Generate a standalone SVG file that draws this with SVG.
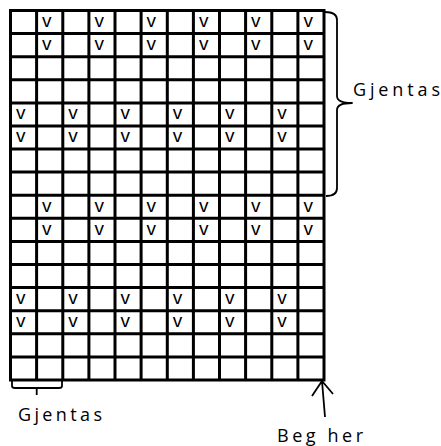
<svg xmlns="http://www.w3.org/2000/svg" width="441" height="446" viewBox="0 0 441 446">
<style>
.grid{fill:none;stroke:#000;stroke-width:3}
.v{font-family:"Liberation Sans",Arial,sans-serif;font-size:19px;fill:#000}
.lbl{font-family:"Open Sans","Noto Sans",sans-serif;font-size:18px;fill:#000}
.br{fill:none;stroke:#000;stroke-width:1.8;stroke-linejoin:round}
</style>
<rect width="441" height="446" fill="#fff"/>
<g id="grid">
<path class="grid" d="M10.5 10.5H324V380H10.5Z
M36.6 10.5V380M62.8 10.5V380M88.9 10.5V380M115 10.5V380M141.1 10.5V380M167.3 10.5V380M193.4 10.5V380M219.5 10.5V380M245.6 10.5V380M271.8 10.5V380M297.9 10.5V380
M10.5 33.6H324M10.5 56.7H324M10.5 79.8H324M10.5 102.9H324M10.5 125.9H324M10.5 149H324M10.5 172.1H324M10.5 195.2H324M10.5 218.3H324M10.5 241.4H324M10.5 264.5H324M10.5 287.6H324M10.5 310.7H324M10.5 333.8H324M10.5 356.9H324"/>
</g>
<g id="marks" class="v">
<text x="42.1" y="27">v</text><text x="94.4" y="27">v</text><text x="146.6" y="27">v</text><text x="198.9" y="27">v</text><text x="251.1" y="27">v</text><text x="303.4" y="27">v</text>
<text x="42.1" y="50.1">v</text><text x="94.4" y="50.1">v</text><text x="146.6" y="50.1">v</text><text x="198.9" y="50.1">v</text><text x="251.1" y="50.1">v</text><text x="303.4" y="50.1">v</text>
<text x="16" y="119.4">v</text><text x="68.3" y="119.4">v</text><text x="120.5" y="119.4">v</text><text x="172.8" y="119.4">v</text><text x="225" y="119.4">v</text><text x="277.3" y="119.4">v</text>
<text x="16" y="142.4">v</text><text x="68.3" y="142.4">v</text><text x="120.5" y="142.4">v</text><text x="172.8" y="142.4">v</text><text x="225" y="142.4">v</text><text x="277.3" y="142.4">v</text>
<text x="42.1" y="211.7">v</text><text x="94.4" y="211.7">v</text><text x="146.6" y="211.7">v</text><text x="198.9" y="211.7">v</text><text x="251.1" y="211.7">v</text><text x="303.4" y="211.7">v</text>
<text x="42.1" y="234.8">v</text><text x="94.4" y="234.8">v</text><text x="146.6" y="234.8">v</text><text x="198.9" y="234.8">v</text><text x="251.1" y="234.8">v</text><text x="303.4" y="234.8">v</text>
<text x="16" y="304.1">v</text><text x="68.3" y="304.1">v</text><text x="120.5" y="304.1">v</text><text x="172.8" y="304.1">v</text><text x="225" y="304.1">v</text><text x="277.3" y="304.1">v</text>
<text x="16" y="327.2">v</text><text x="68.3" y="327.2">v</text><text x="120.5" y="327.2">v</text><text x="172.8" y="327.2">v</text><text x="225" y="327.2">v</text><text x="277.3" y="327.2">v</text>
</g>
<g id="brace-right">
<path class="br" d="M325 12Q337 12 337 20V96Q337 103 352 103Q337 103 337 110V188Q337 196 326 196"/>
<text class="lbl" x="353" y="96" textLength="87" lengthAdjust="spacing">Gjentas</text>
</g>
<g id="brace-bottom">
<path class="br" d="M12 381V386Q12 388 15 388H59Q62 388 62 386V381M36.7 388V395"/>
<text class="lbl" x="18" y="421" textLength="84" lengthAdjust="spacing">Gjentas</text>
</g>
<g id="start">
<path class="br" d="M325 417L322 381M312 396L322 381L333 394"/>
<text class="lbl" x="277" y="442" textLength="86" lengthAdjust="spacing">Beg her</text>
</g>
</svg>
